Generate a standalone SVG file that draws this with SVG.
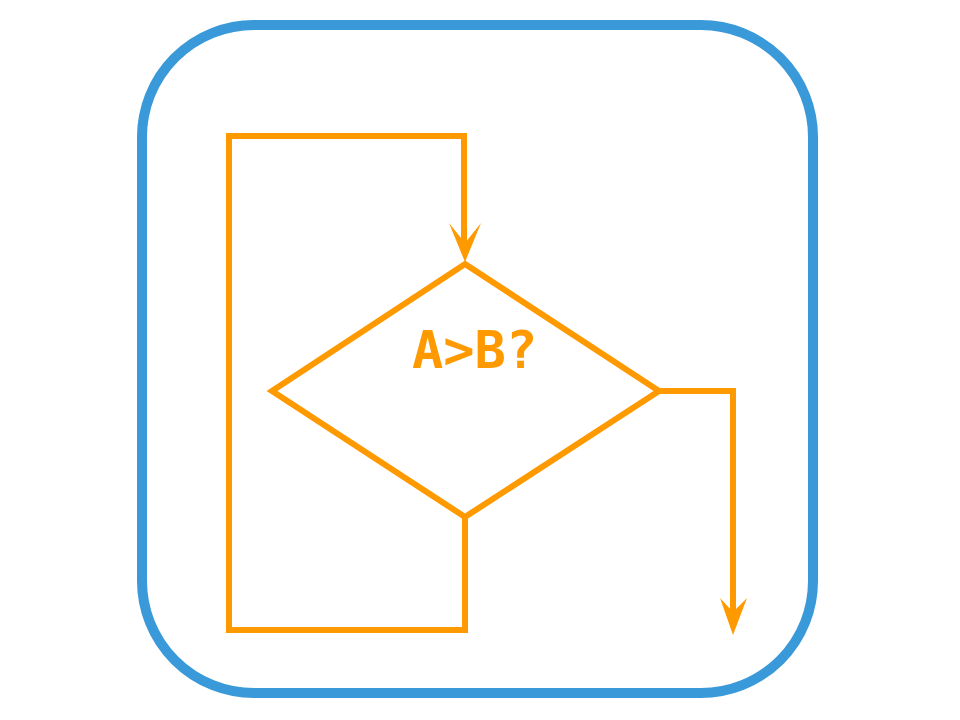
<svg xmlns="http://www.w3.org/2000/svg" width="960" height="720" viewBox="0 0 960 720">
<style>
.frame{fill:none;stroke:#3a99d8;stroke-width:10}
.ln{fill:none;stroke:#ff9900;stroke-width:6;stroke-linejoin:miter}
.ah{fill:#ff9900}
</style>
<rect id="frame" class="frame" x="142" y="25" width="671" height="668" rx="112" ry="112"/>
<g id="decision">
<polygon class="ln" points="465,264 659,391 465,517 272,391"/>
<text x="412" y="368" font-family="DejaVu Sans Mono" font-weight="bold" font-size="52" fill="#ff9900">A&gt;B?</text>
</g>
<g id="connectors">
<path class="ln" d="M465,517 L465,630 L229,630 L229,136 L464,136 L464,245"/>
<path class="ah" d="M449,223 L465,262 L481,223 L465,243 Z"/>
<path class="ln" d="M659,391 L733,391 L733,615"/>
<path class="ah" d="M720,598 L733,635 L747,598 L733,612 Z"/>
</g>
</svg>
